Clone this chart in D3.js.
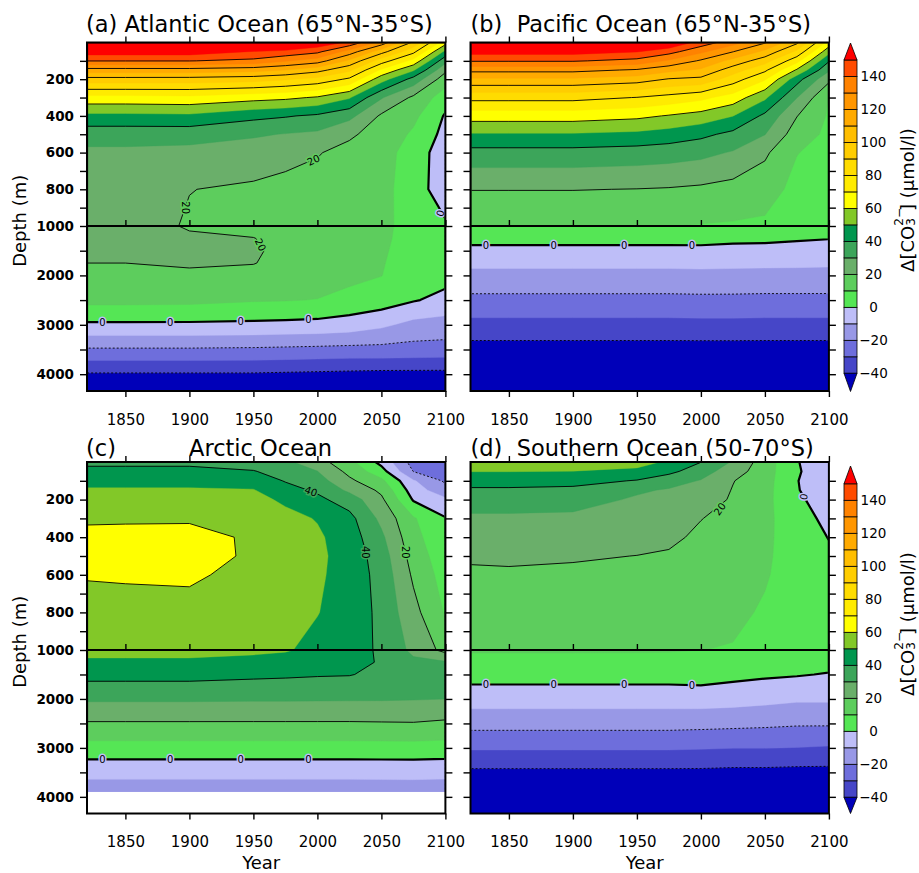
<!DOCTYPE html>
<html><head><meta charset="utf-8">
<script src="https://cdn.jsdelivr.net/npm/d3@7"></script>
<style>
body{margin:0;background:#fff;}
text{font-family:"DejaVu Sans",sans-serif;}
</style></head><body>
<svg id="chart" width="919" height="873" xmlns="http://www.w3.org/2000/svg"></svg>
<script>
// ---------------- data ----------------
const years  = [1820, 1850, 1900, 1950, 1975, 2000, 2025, 2050, 2075, 2100];
const depths = [0, 50, 100, 150, 200, 300, 400, 500, 600, 800, 1000, 1250, 1500, 1750, 2000, 2500, 3000, 3500, 4000, 4340];

const fillLevels = [-40,-30,-20,-10,0,10,20,30,40,50,60,70,80,90,100,110,120,130,140,150];
const fillColors = ["#4646c8","#6e6edc","#9898e6","#bebef8","#55e655","#5dcd5d","#6aaf6a","#3ca55a","#00964e","#82c828",
                    "#ffff00","#ffeb00","#ffdc00","#ffcd00","#ffbe00","#ffaa00","#ff9600","#ff8200","#ff4b00","#ff0000"];
const belowColor = "#0000b9";
const lineLevels = [-40,-20,0,20,40,60,80,100,120,140];
const cbarLabels = [-40,-20,0,20,40,60,80,100,120,140];
const xTicks = [1850,1900,1950,2000,2050,2100];
const depthTicksUpper = [100,200,300,400,500,600,700,800,900,1000];
const depthLabelsUpper = [200,400,600,800,1000];
const depthTicksLower = [1500,2000,2500,3000,3500,4000];
const depthLabelsLower = [2000,3000,4000];
const arcticDataDepth = 3900;

// grids: one array per year (same order as years), values by depth (same order as depths), ΔCO3 (µmol/l)
const atlantic = [
 [170,155.3,140.3,115.9,96.3,66.8,47.5,34.2,28,26.5,25,24,22.9,20,17.1,12.9,-1.6,-21.1,-41,-47],
 [170,155.3,140.3,115.9,96.3,66.8,47.5,34.2,28,26.5,25,24,22.9,20,17.1,12.9,-1.6,-21.1,-41,-47],
 [170,155.3,140.3,116,96,67.5,48,34.2,27,20.2,19,21.5,22,21,18.5,12.5,-1.6,-21.1,-41,-47],
 [168,149.5,137.5,113.6,94.2,63.8,42.6,31.2,25.3,18.5,17.5,20.2,21,20.3,17.5,10.8,-2,-21.5,-41,-47],
 [165,147.5,131,110,91.1,62.2,40.8,29.6,22.7,17.5,17,17.5,18,17.5,16.5,10.5,-2.5,-22,-41.5,-47],
 [158,142.4,124.8,103.6,86.9,58.9,38.4,28.2,20.5,17,16.5,16.5,16.5,16,15,9.7,-3,-22.5,-42,-47],
 [148,125.5,108.1,92.2,78.2,51,32.9,21.3,17.5,15.5,15,14.5,14,13.5,12.5,7,-4.5,-23,-42.5,-47],
 [126,103.9,84.8,68.4,54.3,30.9,18.5,16.5,15.5,14,13.5,12.5,11.5,10.8,10.2,5,-8,-23,-43,-47],
 [98,82.7,67,51.3,36.5,18.1,12.5,8.5,4,3.5,4.5,5,5,4.5,4,0.8,-13,-23.5,-43,-47],
 [64,47.3,33.3,22.2,14.4,4.9,-1,-3,-4,-4,1,4,4.5,3.5,3.5,-3,-14,-24,-43,-47]
];
const pacific = [
 [175,153.8,140.9,122.9,108.5,83.2,64.6,49.2,36.7,20.3,10.3,3.2,-2.7,-7.8,-12.8,-22.5,-33,-44,-48,-50],
 [175,153.8,140.9,122.9,108.5,83.2,64.6,49.2,36.7,20.3,10.3,3.2,-2.7,-7.8,-12.8,-22.5,-33,-44,-48,-50],
 [175,153.8,140.9,122.9,108.5,83.2,64.6,49.2,36.7,20.3,10.3,3.2,-2.7,-7.8,-12.8,-22.5,-33,-44,-48,-50],
 [170,150.5,137,118.9,105,79.7,62.3,47.8,35.6,19.8,10.3,3.2,-2.7,-7.8,-12.8,-22.5,-33,-44,-48,-50],
 [160,143.9,128.6,112.9,99.3,76.5,59.3,45.7,34.5,19.3,10.2,3.2,-2.7,-7.8,-12.8,-22.5,-33,-44,-48,-50],
 [146,132.1,118.6,108.5,97.6,72.6,56.1,42.4,32.7,18.3,9.5,3.3,-2.6,-7.5,-12.6,-22.3,-32.8,-44,-48,-50],
 [134,120.3,106.8,94.9,84.8,65.8,50.2,37.5,29.2,16.5,9,2.1,-2.9,-7.8,-12.8,-22.3,-32.8,-44,-48,-50],
 [121,107.5,94.3,82,71.2,51.8,37.8,30.3,21.7,14.2,8.3,2,-3.2,-8,-13,-22.5,-33,-44,-48,-50],
 [102,87.7,73.5,58.8,43.9,30.3,20.3,15,10.3,7.2,4.4,1,-3.5,-8.2,-13,-22.5,-33,-44,-48,-50],
 [66,53.3,40.9,31.5,22.4,9.9,8.9,7.9,6.9,4.9,2.9,0.3,-4,-8.5,-13.1,-22.5,-33,-44,-48,-50]
];
const arctic = [
 [38,42.4,47.1,51,53.5,58.7,62.4,62.9,60.6,56.8,53.1,48.3,43.1,37.5,31.4,19.1,6.3,-7.2,-17,-19],
 [38,42.4,47.1,51,53.5,58.7,63,63.5,61,56.8,53.1,48.3,43.1,37.5,31.4,19.1,6.3,-7.2,-17,-19],
 [38,42.4,47.1,51,53.5,58.7,63.5,64,61.5,56.8,53.1,48.3,43.1,37.5,31.4,19.1,6.3,-7.2,-17,-19],
 [35,40.6,45.8,50.5,53,56,58.5,58.5,57,55,52,47,42,36.7,31.1,19.1,6.3,-7.2,-17,-19],
 [32,35.5,39.4,43.6,48.2,53,55,55.5,55,53,50.8,46.2,41.5,36.4,31.1,19.1,6.3,-7.2,-17,-19],
 [24,30.2,34.3,38.5,42.3,49.4,51.5,52,51.5,50.3,47.6,44.2,40.8,36.1,31,19.1,6.3,-7.2,-17,-19],
 [13,17.2,22,28,35.3,43,45,46,46,46,45.5,43.5,40.5,35.5,30.9,19.1,6.3,-7.2,-17,-19],
 [-3,4,12.3,18,21.9,27.5,32,35,36.5,37.5,38,39,37.5,35,30.8,19.3,6.4,-7.1,-17,-19],
 [-24,-20.2,-9,-4.9,-0.9,11,13.2,15.8,18.4,23.2,27.7,32,34,34,30.5,19.5,6.5,-7,-17,-19],
 [-28,-25,-21.5,-16.4,-8.1,0.6,2.3,4,5.7,9.1,16.9,31,33.5,34,30,18.3,6.1,-7.4,-17,-19]
];
const southern = [
 [58,50.2,43.9,38.5,34.4,28.4,24.7,21.1,18.7,14.8,11,7,3.2,-0.7,-5.6,-16.5,-28.9,-42,-46,-50],
 [58,50.2,43.9,38.5,34.4,28.4,24.7,21.4,18.9,14.8,11,7,3.2,-0.7,-5.6,-16.5,-28.9,-42,-46,-50],
 [57,49.8,43.2,37.8,33.8,28,24.4,20.8,18.5,14.7,11,7,3.2,-0.7,-5.6,-16.5,-28.9,-42,-46,-50],
 [55,47,39.4,31.3,28.8,25.8,22.8,19.9,18.1,14.5,10.9,7,3.2,-0.7,-5.6,-16.5,-28.9,-42,-46,-50],
 [48,42.7,33.9,29.1,27.6,24.5,21.5,19.2,17.5,14.1,10.7,7,3.2,-0.7,-5.6,-16.5,-28.9,-42,-46,-50],
 [40.2,34.3,29.4,27,24.7,20.2,18.6,17.1,15.7,12.9,10.1,6.6,3.2,-0.4,-5.4,-16.9,-29.3,-42,-46,-50],
 [29,24.7,20.4,19.5,18.9,17.7,16.6,15.4,14.2,11.9,9.5,5.9,2.4,-1.6,-6.1,-17.4,-29.8,-42.5,-46,-50],
 [15,14.5,14,13.5,13,12.5,12,11.5,10.8,9,7,4.1,1.3,-2.6,-7.3,-18,-29.8,-42.5,-46,-50],
 [0.5,1,0.3,0.5,1.5,4,5,5.5,6,6,5.5,3.5,0.7,-4.1,-8.6,-18.8,-30.2,-43,-46,-50],
 [-6,-6,-5.5,-5,-4,-2.5,-0.3,1.5,3,4.5,5,3,-0.6,-4.9,-8.6,-18.8,-30.9,-43,-46,-50]
];

const zeroLabelYears = [1832, 1885, 1940, 1993];
const contourLabels = [
 {panel:"a", level:0,  dir:"v", at:zeroLabelYears, range:[1500,3800], angle:0},
 {panel:"a", level:20, dir:"v", at:[1997], range:[400,900], angle:-25},
 {panel:"a", level:20, dir:"h", at:[900], range:[1850,1950], angle:90},
 {panel:"a", level:20, dir:"h", at:[1380], range:[1950,1975], angle:65},
 {panel:"a", level:0,  dir:"h", at:[930], range:[2075,2100], angle:-75},
 {panel:"b", level:0,  dir:"v", at:zeroLabelYears, range:[1000,2000], angle:0},
 {panel:"c", level:0,  dir:"v", at:zeroLabelYears, range:[3000,3600], angle:0},
 {panel:"c", level:40, dir:"v", at:[1995], range:[0,400], angle:20},
 {panel:"c", level:40, dir:"h", at:[480], range:[2025,2050], angle:90},
 {panel:"c", level:20, dir:"h", at:[480], range:[2050,2100], angle:90},
 {panel:"d", level:0,  dir:"v", at:zeroLabelYears, range:[1000,2500], angle:0},
 {panel:"d", level:20, dir:"h", at:[250], range:[1975,2050], angle:-55},
 {panel:"d", level:0,  dir:"h", at:[185], range:[2050,2100], angle:-80}
];

// ---------------- layout ----------------
const plotW = 358.4;
const panels = [
 {id:"a", grid:atlantic, x0:87,    top:42.5, brk:226, bottom:391,   yLabels:true,  title:[["(a) Atlantic Ocean (65°N-35°S)",86]], titleY:32},
 {id:"b", grid:pacific,  x0:470.5, top:42.5, brk:226, bottom:391,   yLabels:false, title:[["(b)  Pacific Ocean (65°N-35°S)",470.5]], titleY:32},
 {id:"c", grid:arctic,   x0:87,    top:462,  brk:650, bottom:813.5, yLabels:true,  title:[["(c)",86],["Arctic Ocean",189]], titleY:456, dataDepth:arcticDataDepth, xTitle:true},
 {id:"d", grid:southern, x0:470.5, top:462,  brk:650, bottom:813.5, yLabels:false, title:[["(d)  Southern Ocean (50-70°S)",470.5]], titleY:456, xTitle:true}
];

const svg = d3.select("#chart");
const defs = svg.append("defs");

function colorFor(v){
  if (v < fillLevels[0]) return belowColor;
  let k = 0;
  for (let i = 0; i < fillLevels.length; i++) if (v >= fillLevels[i]) k = i;
  return fillColors[k];
}
function bracket(arr, v){
  let i = d3.bisectRight(arr, v) - 1;
  i = Math.max(0, Math.min(arr.length - 2, i));
  return [i, (v - arr[i]) / (arr[i+1] - arr[i])];
}
function valueAt(grid, yr, dp){
  const [i, t] = bracket(years, yr), [j, s] = bracket(depths, dp);
  return (1-t)*(1-s)*grid[i][j] + t*(1-s)*grid[i+1][j] + (1-t)*s*grid[i][j+1] + t*s*grid[i+1][j+1];
}
function idxToVal(u, arr){
  const f = Math.max(0, Math.min(arr.length - 1, u - 0.5));
  const i = Math.min(Math.floor(f), arr.length - 2);
  const t = f - i;
  return arr[i] + t * (arr[i+1] - arr[i]);
}

function drawPanel(p){
  const g = svg.append("g");
  const x = d3.scaleLinear().domain([1820, 2100]).range([p.x0, p.x0 + plotW]);
  const yUp = d3.scaleLinear().domain([0, 1000]).range([p.top, p.brk]);
  const yLow = d3.scaleLinear().domain([1000, 4340]).range([p.brk, p.bottom]);
  const yPix = d => d <= 1000 ? yUp(d) : yLow(d);
  const H = p.bottom - p.top;

  defs.append("clipPath").attr("id", "clip" + p.id).append("rect")
    .attr("x", p.x0).attr("y", p.top).attr("width", plotW).attr("height", H);
  const lineBottom = p.dataDepth ? yPix(p.dataDepth) : p.bottom;
  defs.append("clipPath").attr("id", "lclip" + p.id).append("rect")
    .attr("x", p.x0 + 1).attr("y", p.top + 1).attr("width", plotW - 2).attr("height", lineBottom - p.top - 2);

  const n = years.length, m = depths.length;
  const flat = [];
  for (let j = 0; j < m; j++) for (let i = 0; i < n; i++) flat.push(p.grid[i][j]);

  const proj = d3.geoTransform({ point(px, py){ this.stream.point(x(idxToVal(px, years)), yPix(idxToVal(py, depths))); } });
  const path = d3.geoPath(proj);

  const fg = g.append("g").attr("clip-path", "url(#clip" + p.id + ")");
  fg.append("rect").attr("x", p.x0).attr("y", p.top).attr("width", plotW).attr("height", H).attr("fill", belowColor);
  const bands = d3.contours().size([n, m]).thresholds(fillLevels)(flat);
  fg.selectAll("path.band").data(bands).join("path")
    .attr("class", "band")
    .attr("d", path)
    .attr("fill", d => fillColors[fillLevels.indexOf(d.value)])
    .attr("stroke", d => fillColors[fillLevels.indexOf(d.value)])
    .attr("stroke-width", 0.4);
  if (p.dataDepth) {
    fg.append("rect").attr("x", p.x0).attr("y", yPix(p.dataDepth)).attr("width", plotW)
      .attr("height", p.bottom - yPix(p.dataDepth)).attr("fill", "#fff");
  }

  const lg = g.append("g").attr("clip-path", "url(#lclip" + p.id + ")");
  const lines = d3.contours().size([n, m]).thresholds(lineLevels)(flat);
  lg.selectAll("path.iso").data(lines).join("path")
    .attr("class", "iso")
    .attr("d", path)
    .attr("fill", "none")
    .attr("stroke", "#000")
    .attr("stroke-width", d => d.value === 0 ? 2.2 : 0.9)
    .attr("stroke-dasharray", d => d.value < 0 ? "2,2" : null);

  // contour labels
  contourLabels.filter(l => l.panel === p.id).forEach(l => {
    l.at.forEach(a => {
      let prev = null, pos = null;
      for (let k = 0; k <= 400; k++) {
        const s = l.range[0] + (l.range[1] - l.range[0]) * k / 400;
        const v = (l.dir === "v" ? valueAt(p.grid, a, s) : valueAt(p.grid, s, a)) - l.level;
        if (prev && Math.sign(v) !== Math.sign(prev.v)) {
          pos = prev.s + (s - prev.s) * prev.v / (prev.v - v);
          break;
        }
        prev = {s, v};
      }
      if (pos === null) return;
      const yr = l.dir === "v" ? a : pos, dp = l.dir === "v" ? pos : a;
      const px = x(yr), py = yPix(dp);
      g.append("text")
        .attr("transform", `translate(${px},${py}) rotate(${l.angle})`)
        .attr("text-anchor", "middle").attr("dominant-baseline", "central")
        .attr("font-size", 10)
        .attr("stroke", colorFor(l.level - 5)).attr("stroke-width", 3).attr("paint-order", "stroke")
        .attr("fill", "#000")
        .text(l.level);
    });
  });

  // frame + break line
  g.append("rect").attr("x", p.x0).attr("y", p.top).attr("width", plotW).attr("height", H)
    .attr("fill", "none").attr("stroke", "#000").attr("stroke-width", 2);
  g.append("line").attr("x1", p.x0).attr("x2", p.x0 + plotW).attr("y1", p.brk).attr("y2", p.brk)
    .attr("stroke", "#000").attr("stroke-width", 2);

  const styleAxis = sel => {
    sel.select(".domain").remove();
    sel.selectAll(".tick line").attr("stroke", "#000").attr("stroke-width", 1.4);
    sel.selectAll("text").attr("fill", "#000").attr("font-family", "DejaVu Sans");
  };
  // y axes
  const fmtUp = d => (p.yLabels && depthLabelsUpper.includes(d)) ? d : "";
  const fmtLow = d => (p.yLabels && depthLabelsLower.includes(d)) ? d : "";
  g.append("g").attr("transform", `translate(${p.x0},0)`)
    .call(d3.axisLeft(yUp).tickValues(depthTicksUpper).tickSize(7).tickPadding(6).tickFormat(fmtUp))
    .call(styleAxis).call(s => s.selectAll("text").attr("font-size", 13.5).attr("font-weight", "bold"));
  g.append("g").attr("transform", `translate(${p.x0},0)`)
    .call(d3.axisLeft(yLow).tickValues(depthTicksLower).tickSize(7).tickPadding(6).tickFormat(fmtLow))
    .call(styleAxis).call(s => s.selectAll("text").attr("font-size", 13.5).attr("font-weight", "bold"));
  g.append("g").attr("transform", `translate(${p.x0 + plotW},0)`)
    .call(d3.axisRight(yUp).tickValues(depthTicksUpper).tickSize(7).tickFormat(""))
    .call(styleAxis);
  g.append("g").attr("transform", `translate(${p.x0 + plotW},0)`)
    .call(d3.axisRight(yLow).tickValues(depthTicksLower).tickSize(7).tickFormat(""))
    .call(styleAxis);
  // x axes
  g.append("g").attr("transform", `translate(0,${p.top})`)
    .call(d3.axisTop(x).tickValues(xTicks).tickSize(6).tickFormat("")).call(styleAxis);
  g.append("g").attr("transform", `translate(0,${p.brk})`)
    .call(d3.axisTop(x).tickValues(xTicks).tickSize(6).tickFormat("")).call(styleAxis);
  g.append("g").attr("transform", `translate(0,${p.bottom})`)
    .call(d3.axisBottom(x).tickValues(xTicks).tickSize(6).tickPadding(17).tickFormat(d3.format("d")))
    .call(styleAxis).call(s => s.selectAll("text").attr("font-size", 15));

  // titles
  p.title.forEach(([t, tx]) => {
    g.append("text").attr("x", tx).attr("y", p.titleY).attr("font-size", 22.5)
      .style("white-space", "pre").attr("fill", "#000").text(t);
  });
  if (p.yLabels) {
    g.append("text").attr("transform", `translate(19.5,${(p.top + p.bottom) / 2 + 4}) rotate(-90)`)
      .attr("text-anchor", "middle").attr("dominant-baseline", "central")
      .attr("font-size", 18).text("Depth (m)");
  }
  if (p.xTitle) {
    g.append("text").attr("x", p.x0 + plotW / 2 - 5).attr("y", 869)
      .attr("text-anchor", "middle").attr("font-size", 18).text("Year");
  }
}
panels.forEach(drawPanel);

// ---------------- colorbars ----------------
function drawColorbar(yBottom, yTop, apexTop, apexBottom, labelY){
  const cb = d3.scaleLinear().domain([-40, 150]).range([yBottom, yTop]);
  const g = svg.append("g");
  const x0 = 844, w = 13;
  for (let k = 0; k < fillLevels.length - 1; k++) {
    g.append("rect").attr("x", x0).attr("y", cb(fillLevels[k+1])).attr("width", w)
      .attr("height", cb(fillLevels[k]) - cb(fillLevels[k+1]))
      .attr("fill", fillColors[k]).attr("stroke", "#000").attr("stroke-width", 0.8);
  }
  g.append("path").attr("d", `M${x0},${cb(150)}L${x0 + w/2},${apexTop}L${x0 + w},${cb(150)}Z`)
    .attr("fill", fillColors[fillColors.length - 1]).attr("stroke", "#000").attr("stroke-width", 0.8);
  g.append("path").attr("d", `M${x0},${cb(-40)}L${x0 + w/2},${apexBottom}L${x0 + w},${cb(-40)}Z`)
    .attr("fill", belowColor).attr("stroke", "#000").attr("stroke-width", 0.8);
  cbarLabels.forEach(v => {
    g.append("text").attr("x", 873.5).attr("y", cb(v)).attr("text-anchor", "middle")
      .attr("dominant-baseline", "central").attr("font-size", 13.5)
      .text(v < 0 ? "\u2212" + Math.abs(v) : v);
  });
  const t = g.append("text").attr("transform", `translate(907,${labelY}) rotate(-90)`)
    .attr("text-anchor", "middle").attr("dominant-baseline", "central").attr("font-size", 18);
  t.append("tspan").text("Δ[CO");
  t.append("tspan").attr("font-size", 12).attr("dy", 4).text("3");
  t.append("tspan").attr("font-size", 12).attr("dx", -7.5).attr("dy", -12).text("2\u2212");
  t.append("tspan").attr("dy", 8).attr("dx", -3).text("] (μmol/l)");
}
drawColorbar(373.3, 60, 43, 391.5, 200);
drawColorbar(797.3, 483.8, 466, 813.5, 624);
</script>
</body></html>
